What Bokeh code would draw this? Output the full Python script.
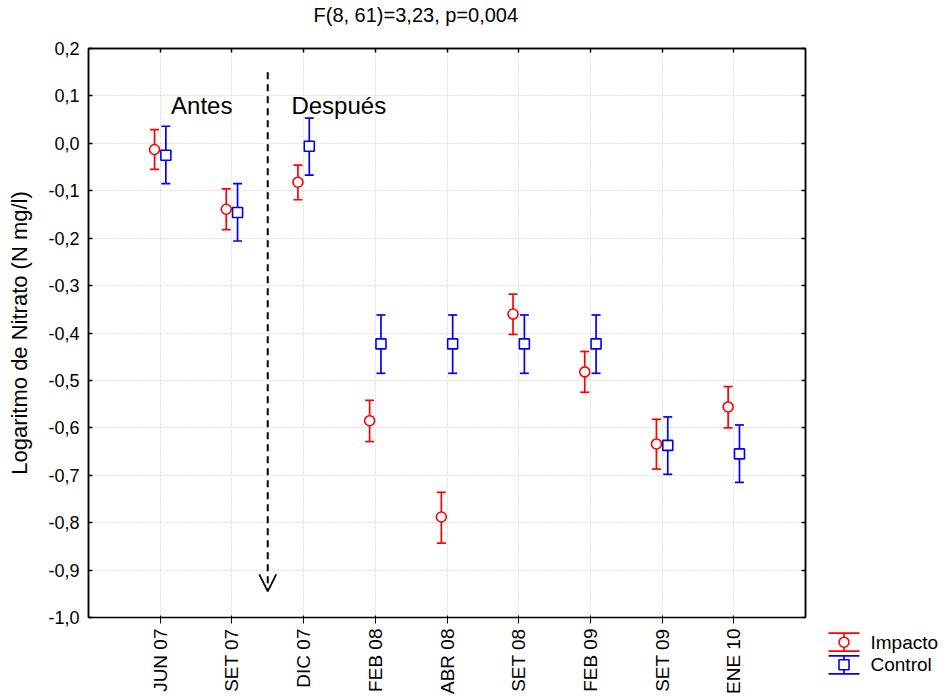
import math
from bokeh.plotting import figure
from bokeh.models import Range1d, FixedTicker, LinearAxis, Label, Arrow, OpenHead, Spacer
from bokeh.layouts import row, column
from bokeh.embed import file_html
from bokeh.resources import INLINE
from bokeh.core.properties import value

# ---------------- data ----------------
categories = ["JUN 07", "SET 07", "DIC 07", "FEB 08", "ABR 08", "SET 08", "FEB 09", "SET 09", "ENE 10"]

impacto_mean = [-0.013, -0.139, -0.082, -0.585, -0.788, -0.360, -0.482, -0.634, -0.556]
impacto_lower = [-0.055, -0.182, -0.119, -0.629, -0.843, -0.403, -0.525, -0.687, -0.600]
impacto_upper = [0.029, -0.096, -0.046, -0.542, -0.736, -0.318, -0.439, -0.582, -0.513]

control_mean = [-0.025, -0.146, -0.006, -0.423, -0.423, -0.423, -0.423, -0.637, -0.655]
control_lower = [-0.085, -0.206, -0.067, -0.485, -0.485, -0.485, -0.485, -0.698, -0.715]
control_upper = [0.036, -0.085, 0.053, -0.362, -0.362, -0.362, -0.362, -0.577, -0.594]

series_names = ["Impacto", "Control"]

y_ticks = [-1.0, -0.9, -0.8, -0.7, -0.6, -0.5, -0.4, -0.3, -0.2, -0.1, 0.0, 0.1, 0.2]
y_tick_labels = ["-1,0", "-0,9", "-0,8", "-0,7", "-0,6", "-0,5", "-0,4", "-0,3", "-0,2", "-0,1", "0,0", "0,1", "0,2"]

title_text = "F(8, 61)=3,23, p=0,004"
y_label = "Logaritmo de Nitrato (N mg/l)"
before_text = "Antes"
after_text = "Después"

# ---------------- layout / style ----------------
FONT = "Liberation Sans"
RED = "#ff0000"
BLUE = "#0000ff"
OFFSET = 0.079

MAIN_W, H = 815, 696
LEG_W, LEG_H = 128, 80
FRAME_L, FRAME_R, FRAME_T, FRAME_B = 88, 805, 48, 616
X0, X1 = 0, len(categories) + 1
Y0, Y1 = -1.0, 0.2


def px2x(px):
    return X0 + (px - FRAME_L) * (X1 - X0) / (FRAME_R - FRAME_L)


def py2y(py):
    return Y1 - (py - FRAME_T) * (Y1 - Y0) / (FRAME_B - FRAME_T)


x_pos = [i + 1 for i in range(len(categories))]
x_imp = [x - OFFSET for x in x_pos]
x_ctl = [x + OFFSET for x in x_pos]

p = figure(width=MAIN_W, height=H, output_backend="svg", toolbar_location=None,
           x_range=Range1d(X0, X1), y_range=Range1d(Y0, Y1),
           min_border_left=FRAME_L, min_border_right=MAIN_W - FRAME_R,
           min_border_top=FRAME_T, min_border_bottom=H - FRAME_B - 1,
           background_fill_color="white", border_fill_color="white")
p.outline_line_color = "black"
p.outline_line_width = 1.5

xt = FixedTicker(ticks=x_pos)
yt = FixedTicker(ticks=y_ticks)

# axes
p.xaxis.ticker = xt
p.xaxis.major_label_overrides = {x: c for x, c in zip(x_pos, categories)}
p.xaxis.major_label_orientation = math.pi / 2
p.xaxis.major_label_text_font = FONT
p.xaxis.major_label_text_font_size = "19px"
p.xaxis.major_label_text_color = "black"
p.xaxis.major_label_standoff = 5

p.yaxis.ticker = yt
p.yaxis.major_label_overrides = {t: l for t, l in zip(y_ticks, y_tick_labels)}
p.yaxis.major_label_text_font = FONT
p.yaxis.major_label_text_font_size = "18px"
p.yaxis.major_label_text_color = "black"
p.yaxis.major_label_standoff = 9
p.yaxis.axis_label = y_label
p.yaxis.axis_label_text_font = FONT
p.yaxis.axis_label_text_font_size = "22px"
p.yaxis.axis_label_text_font_style = "normal"
p.yaxis.axis_label_text_color = "black"
p.yaxis.axis_label_standoff = 13

top_axis = LinearAxis(ticker=xt, major_label_text_font_size="1px", major_label_text_color=None,
                      major_label_standoff=0)
right_axis = LinearAxis(ticker=yt, major_label_text_font_size="1px", major_label_text_color=None,
                        major_label_standoff=0)
p.add_layout(top_axis, "above")
p.add_layout(right_axis, "right")

for ax in [p.xaxis[0], p.yaxis[0], top_axis, right_axis]:
    ax.axis_line_color = "black"
    ax.axis_line_width = 1.5
    ax.major_tick_in = 4
    ax.major_tick_out = 0
    ax.major_tick_line_color = "black"
    ax.major_tick_line_width = 1.5
    ax.minor_tick_line_color = None

# grid
p.xgrid.ticker = xt
p.ygrid.ticker = yt
for g in [p.xgrid[0], p.ygrid[0]]:
    g.grid_line_color = "#c4c4c4"
    g.grid_line_dash = "1 2"
    g.grid_line_width = 1

# title (a label placed in the top side panel, so that it is not clipped)
p.add_layout(Label(x=px2x(313), y=py2y(15), text=title_text, text_font=FONT, text_font_size="20px",
                   text_baseline="alphabetic", text_align="left", text_color="black"), "above")

# error bars & markers
def draw_series(xs, mean, lower, upper, color, marker):
    p.segment(x0=xs, y0=lower, x1=xs, y1=upper, line_color=color, line_width=1.7)
    p.scatter(xs, upper, marker="dash", size=9, line_color=color, line_width=1.7)
    p.scatter(xs, lower, marker="dash", size=9, line_color=color, line_width=1.7)
    p.scatter(xs, mean, marker=marker, size=10, line_color=color, fill_color="white", line_width=1.6)


draw_series(x_imp, impacto_mean, impacto_lower, impacto_upper, RED, "circle")
draw_series(x_ctl, control_mean, control_lower, control_upper, BLUE, "square")

# divider arrow between SET 07 and DIC 07
mid = (x_pos[1] + x_pos[2]) / 2
p.add_layout(Arrow(x_start=mid, y_start=0.15, x_end=mid, y_end=-0.945,
                   line_color="black", line_width=2, line_dash="7 5",
                   end=OpenHead(size=17, line_color="black", line_width=1.8)))

p.add_layout(Label(x=1.152, y=0.079, text=before_text, text_font=FONT, text_font_size="24px",
                   text_baseline="alphabetic", text_color="black"))
p.add_layout(Label(x=2.83, y=0.079, text=after_text, text_font=FONT, text_font_size="24px",
                   text_baseline="alphabetic", text_color="black"))

# ---------------- legend panel (bottom right corner) ----------------
LEG_LEFT, LEG_TOP = MAIN_W, H - LEG_H
lg = figure(width=LEG_W, height=LEG_H, output_backend="svg", toolbar_location=None,
            x_range=Range1d(LEG_LEFT, LEG_LEFT + LEG_W), y_range=Range1d(LEG_TOP + LEG_H, LEG_TOP),
            x_axis_location=None, y_axis_location=None, min_border=0,
            background_fill_color="white", border_fill_color="white")
lg.outline_line_color = None
lg.grid.visible = False

leg_x0, leg_x1 = 828, 859
leg_cx = (leg_x0 + leg_x1) / 2
leg_rows = [641.7, 664.3]
half = 9
for name, cy, color, marker in zip(series_names, leg_rows, [RED, BLUE], ["circle", "square"]):
    lg.segment(x0=[leg_x0, leg_x0, leg_cx], y0=[cy - half, cy + half, cy - half],
               x1=[leg_x1, leg_x1, leg_cx], y1=[cy - half, cy + half, cy + half],
               line_color=color, line_width=1.7)
    lg.scatter([leg_cx], [cy], marker=marker, size=10, line_color=color, fill_color="white", line_width=1.6)
    lg.text(x=[870], y=[cy], text=[name], text_font=value(FONT), text_font_size="19px",
            text_baseline="middle", text_align="left", text_color="black")

layout = row(p, column(Spacer(width=LEG_W, height=H - LEG_H), lg, spacing=0), spacing=0)
open("out.html", "w").write(file_html(layout, INLINE))
